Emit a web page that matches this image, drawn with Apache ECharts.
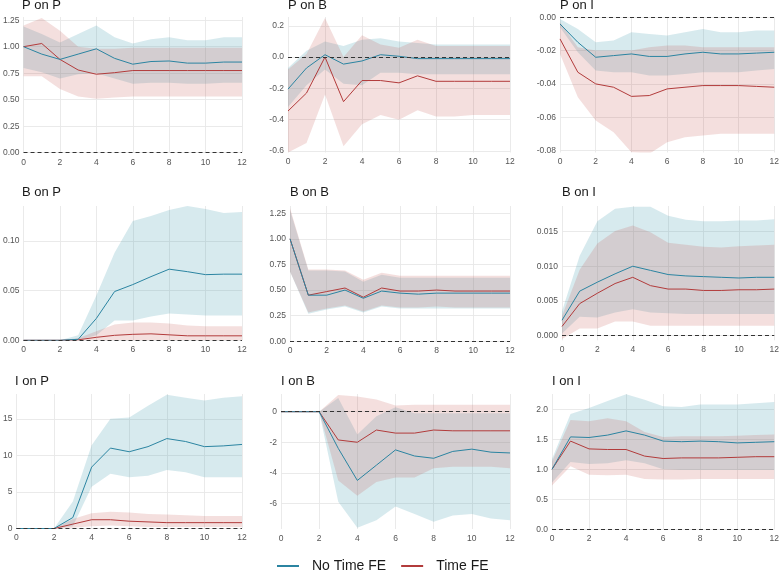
<!DOCTYPE html>
<html><head><meta charset="utf-8">
<script src="https://cdn.jsdelivr.net/npm/echarts@6/dist/echarts.min.js"></script>
<style>html,body{margin:0;padding:0;background:#fff}#c{width:782px;height:572px}</style>
</head><body><div id="c"></div>
<script>
// ---------------- DATA ----------------
const horizon = [0,1,2,3,4,5,6,7,8,9,10,11,12];
const seriesNames = ['No Time FE','Time FE'];
const panelTitles = ['P on P','P on B','P on I','B on P','B on B','B on I','I on P','I on B','I on I'];

// P on P
const PP_nofe    = [1.00,0.93,0.88,0.93,0.98,0.89,0.835,0.86,0.865,0.845,0.845,0.855,0.855];
const PP_nofe_lo = [0.80,0.76,0.70,0.74,0.75,0.70,0.65,0.66,0.66,0.65,0.65,0.66,0.66];
const PP_nofe_hi = [1.19,1.12,1.04,1.12,1.20,1.09,1.03,1.07,1.09,1.06,1.06,1.09,1.09];
const PP_fe      = [1.00,1.03,0.88,0.78,0.74,0.755,0.775,0.775,0.775,0.775,0.775,0.775,0.775];
const PP_fe_lo   = [0.72,0.72,0.60,0.53,0.51,0.52,0.53,0.53,0.53,0.53,0.53,0.53,0.53];
const PP_fe_hi   = [1.20,1.27,1.15,1.00,0.98,0.98,0.99,0.99,0.99,0.99,0.99,0.99,0.99];
const PP_ticks   = [0,0.25,0.5,0.75,1.0,1.25];

// P on B
const PB_nofe    = [-0.205,-0.07,0.015,-0.045,-0.025,0.015,0.005,-0.01,-0.01,-0.01,-0.01,-0.01,-0.01];
const PB_nofe_lo = [-0.32,-0.18,-0.08,-0.17,-0.18,-0.10,-0.10,-0.11,-0.11,-0.11,-0.11,-0.11,-0.11];
const PB_nofe_hi = [-0.07,0.04,0.10,0.07,0.11,0.12,0.10,0.09,0.08,0.08,0.08,0.08,0.08];
const PB_fe      = [-0.345,-0.23,0.0,-0.285,-0.15,-0.15,-0.165,-0.12,-0.155,-0.155,-0.155,-0.155,-0.155];
const PB_fe_lo   = [-0.61,-0.55,-0.24,-0.57,-0.43,-0.37,-0.40,-0.34,-0.38,-0.38,-0.37,-0.37,-0.37];
const PB_fe_hi   = [-0.08,0.02,0.25,0.0,0.14,0.08,0.06,0.11,0.07,0.07,0.07,0.07,0.07];
const PB_ticks   = [-0.6,-0.4,-0.2,0.0,0.2];

// P on I
const PI_nofe    = [-0.004,-0.015,-0.024,-0.023,-0.022,-0.0235,-0.0235,-0.022,-0.021,-0.022,-0.022,-0.0215,-0.021];
const PI_nofe_lo = [-0.006,-0.021,-0.032,-0.033,-0.033,-0.035,-0.035,-0.034,-0.033,-0.033,-0.033,-0.032,-0.031];
const PI_nofe_hi = [-0.001,-0.007,-0.015,-0.014,-0.009,-0.010,-0.011,-0.009,-0.007,-0.009,-0.009,-0.008,-0.008];
const PI_fe      = [-0.013,-0.033,-0.040,-0.042,-0.0475,-0.047,-0.043,-0.042,-0.041,-0.041,-0.041,-0.0415,-0.042];
const PI_fe_lo   = [-0.022,-0.048,-0.062,-0.069,-0.081,-0.082,-0.075,-0.072,-0.071,-0.070,-0.070,-0.070,-0.070];
const PI_fe_hi   = [-0.003,-0.018,-0.020,-0.020,-0.020,-0.018,-0.017,-0.017,-0.018,-0.018,-0.018,-0.018,-0.018];
const PI_ticks   = [-0.08,-0.06,-0.04,-0.02,0.0];

// B on P
const BP_nofe    = [0,0,0,0.001,0.022,0.049,0.056,0.064,0.0715,0.069,0.066,0.0665,0.0665];
const BP_nofe_lo = [0,0,0,0,0.005,0.020,0.020,0.024,0.027,0.026,0.025,0.025,0.025];
const BP_nofe_hi = [0,0,0,0.005,0.045,0.088,0.120,0.125,0.131,0.135,0.132,0.128,0.129];
const BP_fe      = [0,0,0,0.0005,0.003,0.005,0.006,0.0065,0.0055,0.0045,0.0045,0.0045,0.0045];
const BP_fe_lo   = [0,0,0,0,0,0,0,0,0,0,0,0,0];
const BP_fe_hi   = [0,0,0,0.002,0.009,0.016,0.018,0.018,0.017,0.015,0.014,0.014,0.014];
const BP_ticks   = [0,0.05,0.10];

// B on B
const BB_nofe    = [1.0,0.45,0.45,0.50,0.42,0.49,0.47,0.46,0.47,0.47,0.47,0.47,0.47];
const BB_nofe_lo = [0.68,0.27,0.31,0.34,0.28,0.34,0.32,0.32,0.32,0.32,0.32,0.32,0.32];
const BB_nofe_hi = [1.28,0.69,0.69,0.68,0.58,0.65,0.62,0.62,0.62,0.62,0.62,0.62,0.62];
const BB_fe      = [1.0,0.45,0.485,0.52,0.43,0.52,0.49,0.49,0.50,0.49,0.49,0.49,0.49];
const BB_fe_lo   = [0.68,0.28,0.32,0.35,0.29,0.35,0.33,0.33,0.34,0.33,0.33,0.33,0.33];
const BB_fe_hi   = [1.30,0.70,0.70,0.69,0.60,0.67,0.64,0.64,0.64,0.64,0.64,0.64,0.64];
const BB_ticks   = [0,0.25,0.5,0.75,1.0,1.25];

// B on I
const BI_nofe    = [0.0022,0.0064,0.0077,0.0089,0.0100,0.0094,0.0088,0.0086,0.0085,0.0084,0.0083,0.0084,0.0084];
const BI_nofe_lo = [0.0003,0.0027,0.0026,0.0033,0.0038,0.0033,0.0032,0.0031,0.0031,0.0031,0.0031,0.0031,0.0031];
const BI_nofe_hi = [0.0035,0.0115,0.0165,0.0183,0.0186,0.0186,0.0173,0.0167,0.0165,0.0165,0.0166,0.0166,0.0168];
const BI_fe      = [0.0013,0.0046,0.0061,0.0075,0.0084,0.0072,0.0067,0.0067,0.0065,0.0065,0.0066,0.0066,0.0067];
const BI_fe_lo   = [-0.0005,0.0010,0.0010,0.0020,0.0020,0.0014,0.0014,0.0014,0.0014,0.0014,0.0014,0.0014,0.0014];
const BI_fe_hi   = [0.0028,0.0095,0.0133,0.0151,0.0159,0.0149,0.0134,0.0131,0.0128,0.0127,0.0129,0.0130,0.0131];
const BI_ticks   = [0,0.005,0.010,0.015];

// I on P
const IP_nofe    = [0,0,0,1.5,8.4,11.0,10.5,11.2,12.3,11.9,11.2,11.3,11.5];
const IP_nofe_lo = [0,0,0,0.3,5.7,7.5,7.0,7.2,8.0,7.7,7.0,7.0,7.0];
const IP_nofe_hi = [0,0,0,3.7,11.4,15.0,15.2,16.8,18.3,17.9,17.5,17.9,18.1];
const IP_fe      = [0,0,0,0.6,1.2,1.2,1.0,0.9,0.8,0.8,0.8,0.8,0.8];
const IP_fe_lo   = [0,0,0,0.1,0.3,0.4,0.3,0.2,0.2,0.2,0.2,0.2,0.2];
const IP_fe_hi   = [0,0,0,1.3,2.1,2.3,2.2,2.0,1.9,1.8,1.7,1.7,1.7];
const IP_ticks   = [0,5,10,15];

// I on B
const IB_nofe    = [0,0,0,-2.4,-4.5,-3.5,-2.5,-2.9,-3.05,-2.6,-2.45,-2.65,-2.7];
const IB_nofe_lo = [0,0,0,-5.9,-7.6,-7.1,-6.2,-6.7,-7.2,-6.8,-6.7,-7.0,-7.1];
const IB_nofe_hi = [0,0,0,0.9,-1.5,-0.3,0.3,-0.1,-0.1,-0.1,-0.1,-0.1,-0.1];
const IB_fe      = [0,0,0,-1.85,-2.0,-1.2,-1.4,-1.4,-1.2,-1.25,-1.25,-1.25,-1.25];
const IB_fe_lo   = [0,0,0,-4.5,-5.5,-4.6,-4.3,-4.3,-3.7,-3.6,-3.6,-3.6,-3.7];
const IB_fe_hi   = [0,0,0,1.1,1.0,0.8,0.4,0.45,0.45,0.45,0.45,0.45,0.45];
const IB_ticks   = [-6,-4,-2,0];

// I on I
const II_nofe    = [1.0,1.54,1.53,1.57,1.64,1.57,1.47,1.46,1.47,1.46,1.44,1.45,1.46];
const II_nofe_lo = [0.78,1.12,1.09,1.10,1.15,1.10,1.00,0.99,0.99,0.99,0.99,0.99,0.99];
const II_nofe_hi = [1.17,1.92,2.02,2.14,2.25,2.16,2.05,2.04,2.08,2.08,2.08,2.10,2.12];
const II_fe      = [1.0,1.47,1.34,1.33,1.33,1.22,1.18,1.19,1.19,1.19,1.20,1.21,1.21];
const II_fe_lo   = [0.73,1.05,0.91,0.90,0.91,0.84,0.83,0.83,0.84,0.84,0.84,0.84,0.84];
const II_fe_hi   = [1.13,1.82,1.80,1.85,1.80,1.62,1.54,1.55,1.55,1.55,1.56,1.57,1.58];
const II_ticks   = [0,0.5,1.0,1.5,2.0];

// ---------------- LAYOUT ----------------
const panelData = [
  [PP_nofe,PP_nofe_lo,PP_nofe_hi,PP_fe,PP_fe_lo,PP_fe_hi,PP_ticks],
  [PB_nofe,PB_nofe_lo,PB_nofe_hi,PB_fe,PB_fe_lo,PB_fe_hi,PB_ticks],
  [PI_nofe,PI_nofe_lo,PI_nofe_hi,PI_fe,PI_fe_lo,PI_fe_hi,PI_ticks],
  [BP_nofe,BP_nofe_lo,BP_nofe_hi,BP_fe,BP_fe_lo,BP_fe_hi,BP_ticks],
  [BB_nofe,BB_nofe_lo,BB_nofe_hi,BB_fe,BB_fe_lo,BB_fe_hi,BB_ticks],
  [BI_nofe,BI_nofe_lo,BI_nofe_hi,BI_fe,BI_fe_lo,BI_fe_hi,BI_ticks],
  [IP_nofe,IP_nofe_lo,IP_nofe_hi,IP_fe,IP_fe_lo,IP_fe_hi,IP_ticks],
  [IB_nofe,IB_nofe_lo,IB_nofe_hi,IB_fe,IB_fe_lo,IB_fe_hi,IB_ticks],
  [II_nofe,II_nofe_lo,II_nofe_hi,II_fe,II_fe_lo,II_fe_hi,II_ticks]
];
// [left, top, right, bottom], y range, decimals
const layout = [
  {box:[22,17,242,152.7],  ymin:0,       ymax:1.28,   dec:2},
  {box:[288,17,510,152.5], ymin:-0.61,   ymax:0.256,  dec:1},
  {box:[560,17.3,777.5,152.5], ymin:-0.0812, ymax:0,  dec:2},
  {box:[22,206,242,340.3], ymin:0,       ymax:0.135,  dec:2},
  {box:[290,206,510,341.3],ymin:0,       ymax:1.32,   dec:2},
  {box:[562,206,777.5,340.3],ymin:-0.0007,ymax:0.0187,dec:3},
  {box:[15,394,242,528.5], ymin:0,       ymax:18.4,   dec:0},
  {box:[281,394,510,529],  ymin:-7.68,   ymax:1.16,   dec:0},
  {box:[552,394,777.5,529.3],ymin:0,     ymax:2.255,  dec:1}
];
const titleTops = [-1,-1,-1,185.5,185.5,185.5,374.5,374.5,374.5];
const BLUE = '#2b84a1', RED = '#b23b3b';
const BLUE_FILL = 'rgba(45,145,165,0.19)', RED_FILL = 'rgba(195,80,70,0.18)';
const FONT = '"Liberation Sans", Arial, sans-serif';

const grids = [], xAxes = [], yAxes = [], series = [], titles = [];
layout.forEach((L, i) => {
  const [l,t,r,b] = L.box;
  const d = panelData[i];
  grids.push({left:l, top:t, width:r-l, height:b-t, containLabel:false});
  titles.push({text:panelTitles[i], left:l, top:titleTops[i], padding:0,
    textStyle:{fontSize:13, fontWeight:'normal', color:'#1a1a1a', fontFamily:FONT}});
  xAxes.push({type:'value', gridIndex:i, min:0, max:12, interval:2,
    axisLine:{show:false}, axisTick:{show:false},
    axisLabel:{fontSize:8.5, color:'#555', margin:5, fontFamily:FONT},
    splitLine:{show:true, lineStyle:{color:'#e8e8e8', width:0.9}}});
  yAxes.push({type:'value', gridIndex:i, min:L.ymin, max:L.ymax,
    axisLine:{show:false},
    axisTick:{show:false, customValues:d[6]},
    axisLabel:{customValues:d[6], fontSize:8.5, color:'#555', margin:4, fontFamily:FONT,
      formatter: v => Number(v).toFixed(L.dec)},
    splitLine:{show:true, lineStyle:{color:'#e8e8e8', width:0.9}}});
  const band = (lo, hi, fill, name) => ({
    type:'custom', name:name, xAxisIndex:i, yAxisIndex:i, clip:true, silent:true, z:1,
    data: horizon.map((x,k)=>[x, lo[k], hi[k]]),
    encode:{x:0, y:[1,2]},
    renderItem:(params, api) => {
      if (params.dataIndex !== 0) return null;
      const pts = [];
      for (let k=0;k<horizon.length;k++) pts.push(api.coord([horizon[k], hi[k]]));
      for (let k=horizon.length-1;k>=0;k--) pts.push(api.coord([horizon[k], lo[k]]));
      return {type:'polygon', shape:{points:pts}, style:{fill:fill, stroke:null}};
    }
  });
  series.push(band(d[1], d[2], BLUE_FILL, 'band_nofe'));
  series.push(band(d[4], d[5], RED_FILL, 'band_fe'));
  series.push({type:'line', name:seriesNames[0], xAxisIndex:i, yAxisIndex:i, z:3,
    data: horizon.map((x,k)=>[x, d[0][k]]), symbol:'none', showSymbol:false,
    lineStyle:{width:1, color:BLUE}, itemStyle:{color:BLUE},
    markLine:{silent:true, symbol:'none', label:{show:false}, animation:false,
      lineStyle:{type:[4,3], color:'#333', width:1}, data:[{yAxis:0}]}});
  series.push({type:'line', name:seriesNames[1], xAxisIndex:i, yAxisIndex:i, z:2,
    data: horizon.map((x,k)=>[x, d[3][k]]), symbol:'none', showSymbol:false,
    lineStyle:{width:1, color:RED}, itemStyle:{color:RED}});
});

const chart = echarts.init(document.getElementById('c'), null, {renderer:'canvas'});
chart.setOption({
  animation:false,
  backgroundColor:'#fff',
  title: titles,
  grid: grids, xAxis: xAxes, yAxis: yAxes, series: series,
  legend:{data:seriesNames, left:277, top:559, padding:0, icon:'rect', itemWidth:22, itemHeight:2,
    itemGap:15, textStyle:{fontSize:14, color:'#1a1a1a', fontFamily:FONT, padding:[0,0,0,8]}}
});
</script></body></html>
